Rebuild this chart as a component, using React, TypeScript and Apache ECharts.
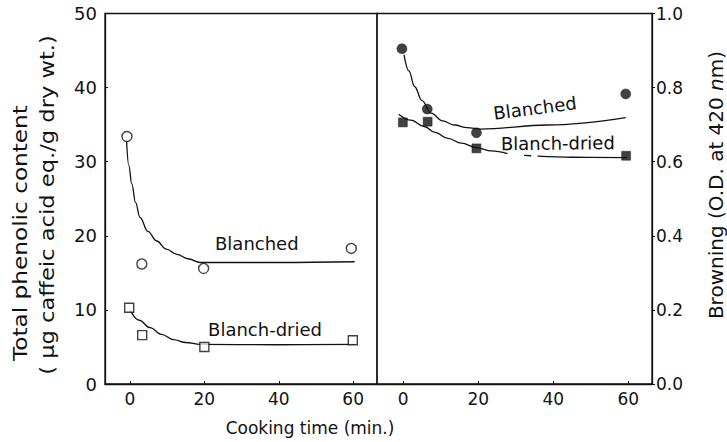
import { useEffect, useRef } from "react";
import * as echarts from "echarts";

// Cooking-time ticks shared by both panels
const TIME_TICKS = [0, 20, 40, 60];

// Total phenolic content (µg caffeic acid eq./g dry wt.)
const phenolBlanched = [[-0.8, 33.4], [3.2, 16.2], [19.8, 15.6], [59.5, 18.3]];
const phenolBlanchDried = [[-0.2, 10.3], [3.3, 6.6], [20.0, 5.0], [59.9, 5.9]];
// fitted trend lines through the phenolic data
const phenolBlanchedFit = [[-0.9, 32.8], [-0.3, 29.5], [0.5, 27.0], [1.5, 24.5], [2.7, 22.5], [4.8, 20.6], [7.2, 19.3], [9.8, 18.2], [12.6, 17.5], [15.6, 16.9], [18.9, 16.4], [40, 16.4], [60.4, 16.5]];
const phenolBlanchDriedFit = [[0, 10.0], [2.5, 8.6], [5.4, 7.6], [8.5, 6.7], [11.7, 6.0], [15, 5.6], [18.9, 5.35], [40, 5.3], [60.4, 5.35]];

// Browning (O.D. at 420 nm)
const brownBlanched = [[-0.35, 0.905], [6.4, 0.742], [19.5, 0.678], [59.3, 0.783]];
const brownBlanchDried = [[-0.1, 0.706], [6.5, 0.708], [19.5, 0.636], [59.4, 0.616]];
const brownBlanchedFit = [[0.2, 0.889], [1.5, 0.845], [3, 0.803], [5, 0.765], [7.4, 0.731], [10.5, 0.71], [13.6, 0.699], [17, 0.692], [20.7, 0.688], [38.4, 0.699], [59.3, 0.719]];
const brownBlanchDriedFit: (number | string)[][] = [[-1.2, 0.728], [2, 0.712], [5.6, 0.695], [8.5, 0.679], [11.9, 0.663], [15.5, 0.65], [19.5, 0.638], [23.5, 0.629], [27.8, 0.622], [30, "-"], [32.2, 0.617], [34.1, 0.616], [35, "-"], [35.8, 0.615], [45, 0.612], [59.6, 0.611]];

const INK = "#111";
const FONT = "DejaVu Sans";

export default function App() {
  const ref = useRef<HTMLDivElement>(null);

  useEffect(() => {
    const chart = echarts.init(ref.current!, null, { renderer: "svg" });

    const gridTop = 13.5;
    const gridHeight = 370.5;

    const xAxisBase = (gridIndex: number, min: number, max: number) => ({
      type: "value" as const,
      gridIndex,
      min,
      max,
      axisLine: { show: true, onZero: false, lineStyle: { color: INK, width: 1.3 } },
      axisTick: { show: true, inside: true, length: 3, customValues: TIME_TICKS, lineStyle: { color: INK } },
      axisLabel: { customValues: TIME_TICKS, color: INK, fontFamily: FONT, fontSize: 17, margin: 6 },
      splitLine: { show: false },
    });

    const line = (xi: number, data: any[]) => ({
      type: "line" as const,
      xAxisIndex: xi,
      yAxisIndex: xi,
      data,
      smooth: 0.4,
      smoothMonotone: "x" as const,
      showSymbol: false,
      symbol: "none",
      connectNulls: false,
      lineStyle: { color: INK, width: 1.3 },
      z: 2,
    });

    const dots = (xi: number, data: number[][], symbol: string, filled: boolean, size: number) => ({
      type: "scatter" as const,
      xAxisIndex: xi,
      yAxisIndex: xi,
      data,
      symbol,
      symbolSize: size,
      itemStyle: filled
        ? { color: INK, borderColor: INK, borderWidth: 0.5 }
        : { color: "#fff", borderColor: INK, borderWidth: 1.4 },
      z: 3,
    });

    chart.setOption({
      animation: false,
      backgroundColor: "#fff",
      textStyle: { fontFamily: FONT, color: INK },
      grid: [
        { left: 105, width: 272, top: gridTop, height: gridHeight, show: true, borderColor: INK, borderWidth: 1.3, backgroundColor: "transparent" },
        { left: 377, width: 275, top: gridTop, height: gridHeight, show: true, borderColor: INK, borderWidth: 1.3, backgroundColor: "transparent" },
      ],
      xAxis: [xAxisBase(0, -6.7, 66.4), xAxisBase(1, -7.0, 66.3)],
      yAxis: [
        {
          type: "value",
          gridIndex: 0,
          min: 0,
          max: 50,
          interval: 10,
          axisLine: { show: true, onZero: false, lineStyle: { color: INK, width: 1.3 } },
          axisTick: { show: true, inside: true, length: 3, lineStyle: { color: INK } },
          axisLabel: { color: INK, fontFamily: FONT, fontSize: 18, margin: 8 },
          splitLine: { show: false },
        },
        {
          type: "value",
          gridIndex: 1,
          position: "right",
          min: 0,
          max: 1,
          interval: 0.2,
          axisLine: { show: true, onZero: false, lineStyle: { color: INK, width: 1.3 } },
          axisTick: { show: true, inside: false, length: 3, lineStyle: { color: INK } },
          axisLabel: {
            color: INK,
            fontFamily: FONT,
            fontSize: 17,
            margin: 4,
            formatter: (v: number) => v.toFixed(1),
          },
          splitLine: { show: false },
        },
      ],
      series: [
        line(0, phenolBlanchedFit),
        line(0, phenolBlanchDriedFit),
        dots(0, phenolBlanched, "circle", false, 10),
        dots(0, phenolBlanchDried, "rect", false, 9),
        line(1, brownBlanchedFit),
        line(1, brownBlanchDriedFit),
        dots(1, brownBlanched, "circle", true, 10),
        dots(1, brownBlanchDried, "rect", true, 9),
      ],
    });

    // curve labels anchored in data space
    const at = (g: number, p: number[]) => chart.convertToPixel({ gridIndex: g }, p) as number[];
    const curveLabel = (g: number, p: number[], text: string, rotation = 0) => {
      const [x, y] = at(g, p);
      return {
        type: "text",
        x,
        y,
        rotation,
        style: { text, fill: INK, font: `18px '${FONT}'`, textAlign: "center", textVerticalAlign: "middle" },
        z: 10,
      };
    };

    // vertical axis titles, stretched along their reading direction
    const vTitle = (x: number, y: number, stretch: number, style: any) => ({
      type: "text",
      x,
      y,
      rotation: Math.PI / 2,
      scaleX: stretch,
      style: { fill: INK, font: `20px '${FONT}'`, textAlign: "center", textVerticalAlign: "middle", ...style },
    });

    chart.setOption({
      graphic: [
        curveLabel(0, [34.1, 19.0], "Blanched"),
        curveLabel(0, [36.3, 7.4], "Blanch-dried"),
        curveLabel(1, [35.1, 0.745], "Blanched", 0.13),
        curveLabel(1, [41.2, 0.65], "Blanch-dried", 0.01),
        {
          type: "text",
          x: 310,
          y: 428,
          style: { text: "Cooking time (min.)", fill: INK, font: `17px '${FONT}'`, textAlign: "center", textVerticalAlign: "middle" },
        },
        vTitle(20, 233, 1.16, { text: "Total phenolic content" }),
        vTitle(47, 205, 1.13, { text: "( µg caffeic acid eq./g dry wt.)" }),
        vTitle(716, 185, 1.0, {
          text: "Browning (O.D. at 420 {it|n}m)",
          rich: { it: { fontStyle: "italic", fontFamily: FONT, fontSize: 20, fill: INK } },
        }),
      ],
    });

    return () => chart.dispose();
  }, []);

  return <div ref={ref} style={{ position: "absolute", left: 0, top: 0, width: 727, height: 442 }} />;
}
